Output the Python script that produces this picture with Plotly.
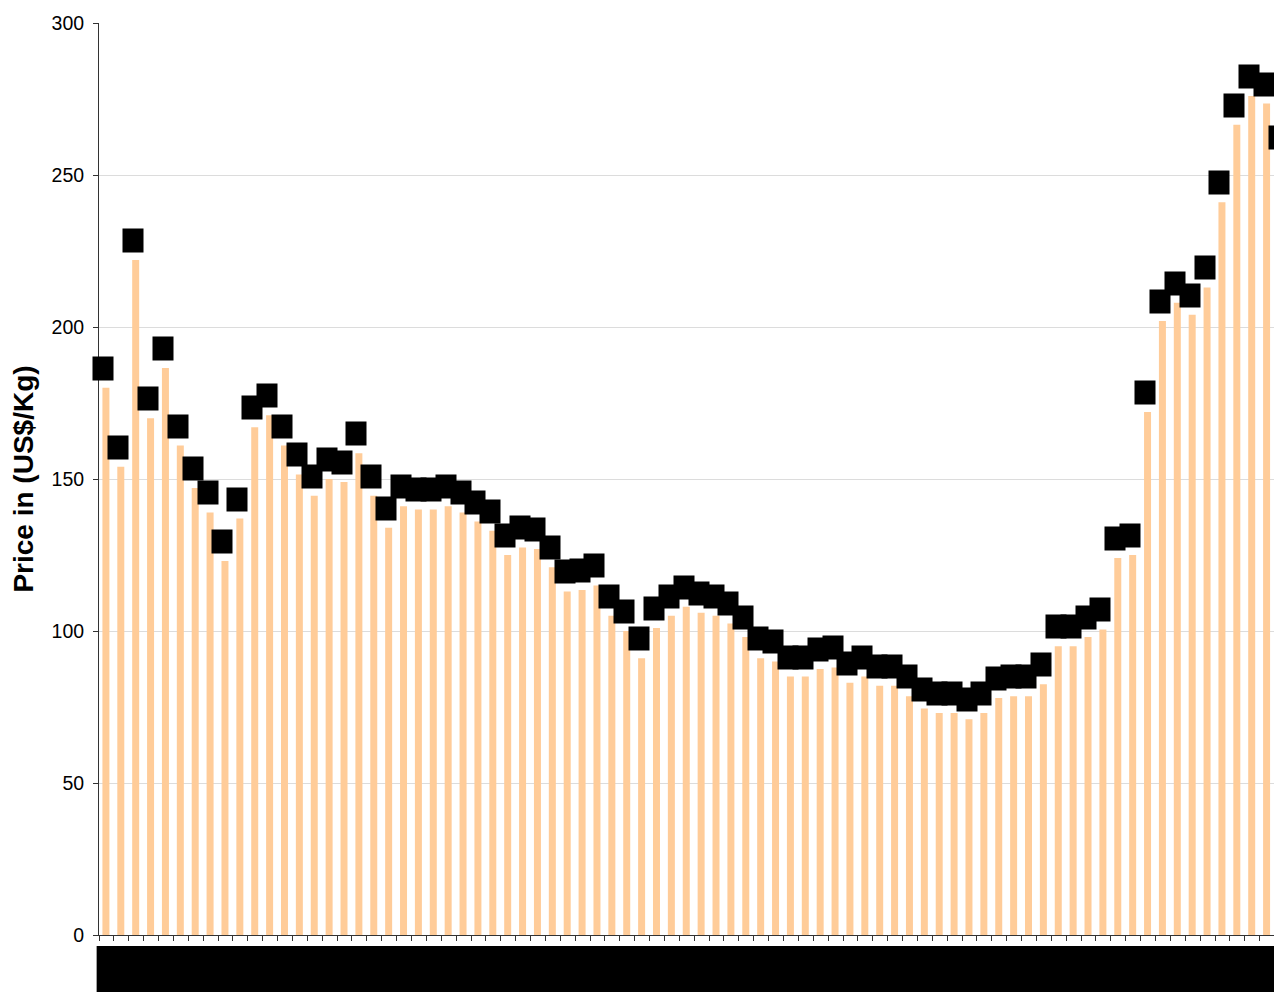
import plotly.graph_objects as go

# Monthly price data (US$/Kg)
periods = [f"M{i:02d}" for i in range(1, 81)]
prices = [
    180, 154, 222, 170, 186.5, 161, 147, 139, 123, 137,
    167, 171, 161, 151.5, 144.5, 150, 149, 158.5, 144.5, 134,
    141, 140, 140, 141, 139, 136, 133, 125, 127.5, 127,
    121, 113, 113.5, 115, 105, 100, 91, 101, 105, 108,
    106, 105, 102.5, 98, 91, 90, 85, 85, 87.5, 88,
    83, 85, 82, 82, 78.5, 74.5, 73, 73, 71, 73,
    78, 78.5, 78.5, 82.5, 95, 95, 98, 100.5, 124, 125,
    172, 202, 208, 204, 213, 241, 266.5, 276, 273.5, 256,
]
y_title = "Price in (US$/Kg)"
y_ticks = [0, 50, 100, 150, 200, 250, 300]

FONT = "Liberation Sans, Arial, sans-serif"

fig = go.Figure()
fig.add_trace(go.Bar(
    x=list(range(len(periods))),
    y=prices,
    width=0.47,
    offset=-0.27,
    marker=dict(color="#FFCC99", line=dict(width=0)),
    hoverinfo="x+y",
))

# data labels (rendered as solid black boxes, as in the reference)
for i, v in enumerate(prices):
    fig.add_annotation(
        x=i, y=v, xref="x", yref="y",
        text=f"{v:g}", showarrow=False,
        xanchor="center", yanchor="bottom",
        xshift=-3, yshift=7,
        width=20, height=23, borderpad=0,
        bgcolor="black", font=dict(color="black", size=11, family=FONT),
    )

# black band covering the category labels
fig.add_shape(
    type="rect", xref="paper", yref="paper",
    x0=-0.002, x1=1.01, y0=-0.012, y1=-0.08,
    fillcolor="black", line=dict(width=0), layer="above",
)

fig.update_layout(
    width=1274, height=984,
    margin=dict(l=91, r=0, t=15, b=57),
    paper_bgcolor="white", plot_bgcolor="white",
    showlegend=False,
    font=dict(family=FONT, color="black"),
    bargap=0.53,
)
fig.update_xaxes(
    type="linear",
    range=[-0.5, 79.001],
    tickmode="array",
    tickvals=[i - 0.5 for i in range(len(periods) + 1)],
    ticktext=[""] * (len(periods) + 1),
    ticks="outside", ticklen=5, tickcolor="#333", tickwidth=1,
    showline=True, linecolor="#333", linewidth=1,
    showgrid=False, zeroline=False,
)
fig.update_yaxes(
    range=[0, 300],
    tickvals=y_ticks,
    ticks="outside", ticklen=5, tickcolor="#333", tickwidth=1,
    ticklabelstandoff=5,
    showline=True, linecolor="#333", linewidth=1,
    showgrid=True, gridcolor="#dcdcdc", gridwidth=1,
    zeroline=False,
    tickfont=dict(size=19.5, family=FONT, color="black"),
    title=dict(text=f"<b>{y_title}</b>", font=dict(size=28, family=FONT, color="black"), standoff=10),
)

fig.write_html("out.html")
